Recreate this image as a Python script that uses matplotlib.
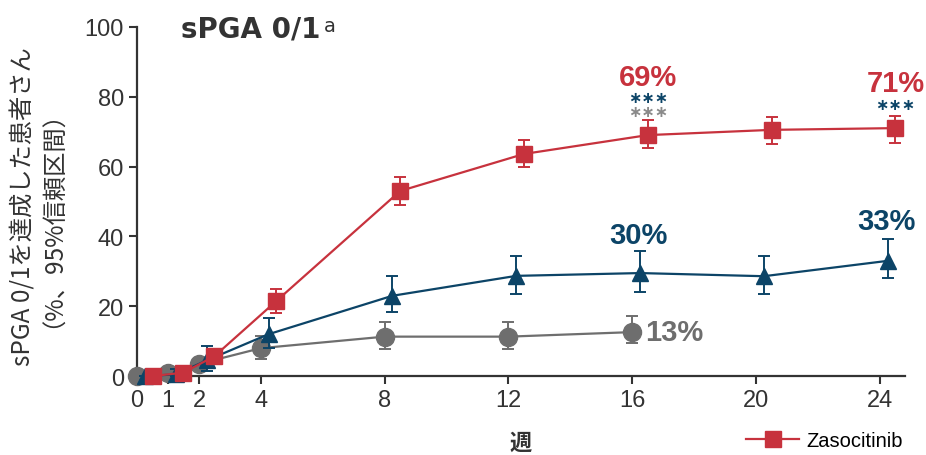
import matplotlib
matplotlib.use("Agg")
import matplotlib.pyplot as plt
from matplotlib.lines import Line2D
import numpy as np

plt.rcParams['font.family'] = ['Liberation Sans', 'Noto Sans CJK JP', 'DejaVu Sans']

weeks = [0, 1, 2, 4, 8, 12, 16, 20, 24]
week_ticks = [0, 1, 2, 4, 8, 12, 16, 20, 24]

# Zasocitinib (red)
zaso = [0, 1, 5.7, 21.5, 53, 63.6, 69, 70.5, 71]
zaso_lo = [0, 0, 4.5, 18.2, 49, 60, 65.3, 66.5, 66.8]
zaso_hi = [0, 2, 7.5, 25, 57, 67.5, 73.3, 74.2, 74.4]

# blue comparator
blue = [0, 0.5, 4.5, 12, 23, 28.7, 29.5, 28.6, 33]
blue_lo = [0, 0, 1.5, 8, 18.3, 23.5, 24, 23.5, 28]
blue_hi = [0, 2, 8.5, 16.5, 28.7, 34.4, 35.7, 34.4, 39.3]

# grey (placebo), up to week 16
grey_weeks = [0, 1, 2, 4, 8, 12, 16]
grey = [0, 1, 3.5, 8, 11.3, 11.3, 12.6]
grey_lo = [0, 0, 2, 5, 7.7, 7.7, 9.5]
grey_hi = [0, 2, 5, 11.5, 15.5, 15.5, 17.2]

RED = '#c7323d'
BLUE = '#0c4467'
GREY = '#6e6e6e'
DARK = '#333333'
CJK = ['Noto Sans CJK JP', 'DejaVu Sans']

fig = plt.figure(figsize=(9.26, 4.56), dpi=100)
ax = fig.add_axes([0.148, 0.173, 0.829, 0.766])


def series(x, y, lo, hi, shift, color, marker, ms, z):
    x = np.array(x) + shift
    y = np.array(y)
    err = [y - np.array(lo), np.array(hi) - y]
    ax.errorbar(x, y, yerr=err, color=color, marker=marker, ms=ms, lw=1.6,
                elinewidth=1.4, capsize=4, capthick=1.4, zorder=z,
                clip_on=False)


series(grey_weeks, grey, grey_lo, grey_hi, 0.0, GREY, 'o', 13, 3)
series(weeks, blue, blue_lo, blue_hi, 0.25, BLUE, '^', 11, 4)
series(weeks, zaso, zaso_lo, zaso_hi, 0.5, RED, 's', 12, 5)

ax.set_xlim(0, 24.8)
ax.set_ylim(0, 100)
ax.set_xticks(week_ticks)
ax.set_yticks([0, 20, 40, 60, 80, 100])
ax.tick_params(labelsize=17, colors=DARK, length=6, width=1.5, direction='out')
for s in ['top', 'right']:
    ax.spines[s].set_visible(False)
for s in ['left', 'bottom']:
    ax.spines[s].set_linewidth(1.6)
    ax.spines[s].set_color(DARK)

ax.set_ylabel('sPGA 0/1を達成した患者さん\n（%、95%信頼区間）', fontsize=17.5,
              color=DARK, family=CJK, linespacing=0.6)
ax.yaxis.set_label_coords(-0.108, 0.487)
ax.set_xlabel('週', fontsize=16, fontweight='bold', color=DARK,
              family=CJK, labelpad=14)

fig.text(0.196, 0.917, 'sPGA 0/1', fontsize=20,
         fontweight='bold', color=DARK, family='DejaVu Sans')
fig.text(0.350, 0.962, 'a', fontsize=14, color=DARK, family='DejaVu Sans',
         va='top')

# value labels
kw = dict(fontsize=21, fontweight='bold', ha='center', va='baseline')
star = dict(fontsize=11.5, fontweight='bold', ha='center', va='center',
            family='DejaVu Sans')
ax.text(16.5, 83.3, '69%', color=RED, **kw)
ax.text(16.5, 79.8, '∗∗∗', color=BLUE, **star)
ax.text(16.5, 75.8, '∗∗∗', color='#8a8a8a', **star)
ax.text(24.5, 81.6, '71%', color=RED, **kw)
ax.text(24.5, 77.9, '∗∗∗', color=BLUE, **star)
ax.text(16.2, 38.1, '30%', color=BLUE, **kw)
ax.text(24.2, 42.1, '33%', color=BLUE, **kw)
ax.text(16.4, 12.6, '13%', color=GREY, fontsize=21, fontweight='bold',
        ha='left', va='center')

handle = Line2D([], [], color=RED, marker='s', ms=12, lw=1.6)
fig.legend([handle], ['Zasocitinib'], loc='lower right',
           bbox_to_anchor=(0.995, -0.028), frameon=False,
           fontsize=14.5, handlelength=2.6, handletextpad=0.4)

fig.savefig('out.png', dpi=100)
